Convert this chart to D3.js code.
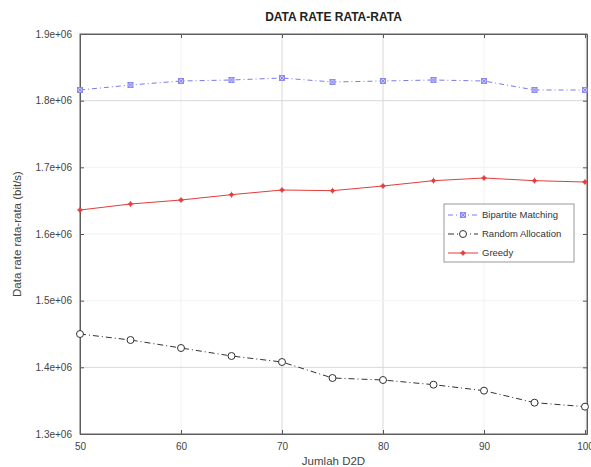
<!DOCTYPE html>
<html>
<head>
<meta charset="utf-8">
<script src="https://cdn.jsdelivr.net/npm/d3@7"></script>
<style>
	body { margin: 0; background: #fff; }
	svg { display: block; font-family: "Liberation Sans", Arial, sans-serif; }
	.tick text { fill: #444; font-size: 10px; }
</style>
</head>
<body>
<svg width="591" height="467"></svg>
<script>
// jumlah D2D
const jumlahD2D = [50, 55, 60, 65, 70, 75, 80, 85, 90, 95, 100];
// data rate rata-rata (bit/s)
const bipartite = [1.816e6, 1.8235e6, 1.8295e6, 1.831e6, 1.834e6, 1.828e6, 1.8295e6, 1.831e6, 1.8295e6, 1.816e6, 1.816e6];
const randomAlloc = [1.450e6, 1.441e6, 1.429e6, 1.417e6, 1.408e6, 1.384e6, 1.381e6, 1.374e6, 1.365e6, 1.347e6, 1.341e6];
const greedy = [1.636e6, 1.645e6, 1.651e6, 1.659e6, 1.666e6, 1.665e6, 1.672e6, 1.680e6, 1.684e6, 1.680e6, 1.678e6];
const xTicks = [50, 60, 70, 80, 90, 100];
const yTicks = [1.3e6, 1.4e6, 1.5e6, 1.6e6, 1.7e6, 1.8e6, 1.9e6];
const seriesNames = ["Bipartite Matching", "Random Allocation", "Greedy"];

const svg = d3.select("svg");
const margin = {top: 34, left: 80, right: 4, bottom: 33};
const width = 591 - margin.left - margin.right;
const height = 467 - margin.top - margin.bottom;

const x = d3.scaleLinear().domain([50, 100]).range([0, width - 2]);
const y = d3.scaleLinear().domain([1.3e6, 1.9e6]).range([height, 0]);

const g = svg.append("g").attr("transform", `translate(${margin.left},${margin.top})`);

// grid
const strongX = [70, 80], strongY = [1.4e6, 1.8e6];
g.append("g").selectAll("line").data(xTicks).join("line")
	.attr("x1", d => x(d)).attr("x2", d => x(d))
	.attr("y1", 0).attr("y2", height)
	.attr("stroke", d => strongX.includes(d) ? "#d8d8d8" : "#f2f2f2");
g.append("g").selectAll("line").data(yTicks).join("line")
	.attr("y1", d => y(d)).attr("y2", d => y(d))
	.attr("x1", 0).attr("x2", width)
	.attr("stroke", d => strongY.includes(d) ? "#d8d8d8" : "#f2f2f2");

const fmt = d => (d / 1e6).toFixed(1) + "e+06";

g.append("g").attr("transform", `translate(0,${height})`)
	.call(d3.axisBottom(x).tickValues(xTicks).tickSize(-4).tickPadding(9));
g.append("g")
	.call(d3.axisLeft(y).tickValues(yTicks).tickFormat(fmt).tickSize(-4).tickPadding(8));
g.append("g").call(d3.axisTop(x).tickValues(xTicks).tickSize(-4).tickFormat(""));
g.append("g").attr("transform", `translate(${width},0)`)
	.call(d3.axisRight(y).tickValues(yTicks).tickSize(-4).tickFormat(""));
g.selectAll(".domain").attr("stroke", "#555");
g.selectAll(".tick line").attr("stroke", "#555");

// box
g.append("rect").attr("width", width).attr("height", height)
	.attr("fill", "none").attr("stroke", "#666");

const line = d3.line().x((d, i) => x(jumlahD2D[i])).y(d => y(d));

const series = [
	{name: seriesNames[0], data: bipartite, color: "#7878f0", dash: "5,3,1,3", marker: "star"},
	{name: seriesNames[1], data: randomAlloc, color: "#333", dash: "6,3,1,3", marker: "circle"},
	{name: seriesNames[2], data: greedy, color: "#e43c3c", dash: null, marker: "dot"}
];

function drawMarker(sel, s) {
	if (s.marker === "circle") {
		sel.append("circle").attr("r", 3.5).attr("fill", "#fff").attr("stroke", s.color).attr("stroke-width", 1);
	} else if (s.marker === "star") {
		sel.append("rect").attr("x", -2.5).attr("y", -2.5).attr("width", 5).attr("height", 5)
			.attr("fill", "#c8c8f8").attr("stroke", s.color).attr("stroke-width", 0.8);
		sel.append("path").attr("d", "M-2.5,-2.5L2.5,2.5M-2.5,2.5L2.5,-2.5")
			.attr("stroke", s.color).attr("stroke-width", 0.8);
	} else {
		sel.append("circle").attr("r", 2).attr("fill", s.color);
		sel.append("path").attr("d", "M-3,0L3,0M0,-3L0,3").attr("stroke", s.color).attr("stroke-width", 0.8);
	}
}

series.forEach(s => {
	g.append("path").datum(s.data).attr("d", line)
		.attr("fill", "none").attr("stroke", s.color).attr("stroke-width", 1)
		.attr("stroke-dasharray", s.dash);
	s.data.forEach((v, i) => {
		const m = g.append("g").attr("transform", `translate(${x(jumlahD2D[i])},${y(v)})`);
		drawMarker(m, s);
	});
});

// legend
const lg = svg.append("g").attr("transform", "translate(444,204)");
lg.append("rect").attr("width", 130).attr("height", 58)
	.attr("fill", "#fff").attr("stroke", "#999");
series.forEach((s, i) => {
	const row = lg.append("g").attr("transform", `translate(0,${11 + i * 19})`);
	row.append("line").attr("x1", 4).attr("x2", 34)
		.attr("stroke", s.color).attr("stroke-dasharray", s.dash);
	drawMarker(row.append("g").attr("transform", "translate(19,0)"), s);
	row.append("text").attr("x", 38).attr("y", 3)
		.attr("font-size", 9.5).attr("fill", "#333").text(s.name);
});

// titles
svg.append("text").attr("x", margin.left + width / 2).attr("y", 21)
	.attr("text-anchor", "middle").attr("font-size", 12).attr("font-weight", "bold")
	.attr("fill", "#222").text("DATA RATE RATA-RATA");
svg.append("text").attr("x", margin.left + width / 2).attr("y", 465)
	.attr("text-anchor", "middle").attr("font-size", 11.5).attr("fill", "#444").text("Jumlah D2D");
svg.append("text").attr("transform", `translate(21,${margin.top + height / 2}) rotate(-90)`)
	.attr("text-anchor", "middle").attr("font-size", 11.5).attr("fill", "#444")
	.text("Data rate rata-rata (bit/s)");
</script>
</body>
</html>
